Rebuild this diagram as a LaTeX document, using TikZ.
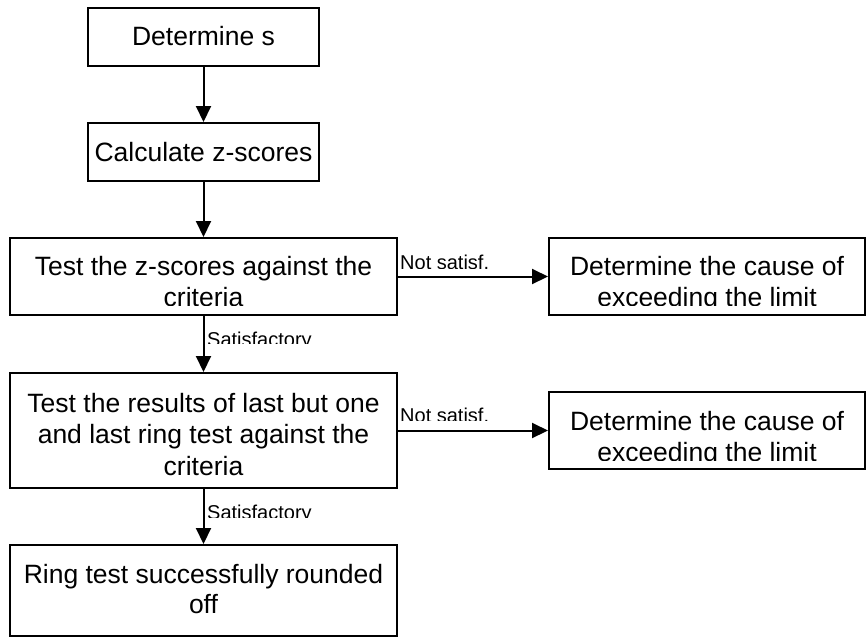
\documentclass[tikz,border=0pt]{standalone}
\usepackage{fontspec}
\setmainfont{Liberation Sans}
\usetikzlibrary{arrows.meta}
\begin{document}
\begin{tikzpicture}[x=1pt,y=-1pt,
  box/.style={draw, line width=2pt, inner sep=0pt},
  txt/.style={font=\fontsize{26.5}{31}\selectfont, anchor=base, inner sep=0pt},
  lbl/.style={font=\fontsize{20}{24}\selectfont, anchor=base west, inner sep=0pt},
  arr/.style={-{Triangle[length=16pt,width=15pt]}, line width=2pt}]
\useasboundingbox (0,0) rectangle (866,638);
% boxes
\node[box, minimum width=231pt, minimum height=58pt] (b1) at (203.5,37) {};
\node[box, minimum width=231pt, minimum height=58pt] (b2) at (203.5,152) {};
\node[box, minimum width=387pt, minimum height=77pt] (b3) at (203.5,276.5) {};
\node[box, minimum width=316pt, minimum height=77pt] (r1) at (707,276.5) {};
\node[box, minimum width=387pt, minimum height=115pt] (b4) at (203.5,430.5) {};
\node[box, minimum width=316pt, minimum height=77pt] (r2) at (707,430.5) {};
\node[box, minimum width=387pt, minimum height=91pt] (b5) at (203.5,590.5) {};
% texts
\node[txt] (t1) at (203.5,45.5) {Determine s};
\node[txt] (t2) at (203.5,161) {Calculate z-scores};
\begin{scope}
  \clip (10,238) rectangle (397,305.5);
  \node[txt] (t3a) at (203.5,275) {Test the z-scores against the};
  \node[txt] (t3b) at (203.5,306) {criteria};
\end{scope}
\begin{scope}
  \clip (549,238) rectangle (865,305.5);
  \node[txt] (tr1a) at (707,275) {Determine the cause of};
  \node[txt] (tr1b) at (707,306) {exceeding the limit};
\end{scope}
\node[txt] (t4a) at (203.5,412) {Test the results of last but one};
\node[txt] (t4b) at (203.5,443.5) {and last ring test against the};
\node[txt] (t4c) at (203.5,475) {criteria};
\begin{scope}
  \clip (549,392) rectangle (865,460);
  \node[txt] (tr2a) at (707,430) {Determine the cause of};
  \node[txt] (tr2b) at (707,461) {exceeding the limit};
\end{scope}
\node[txt] (t5a) at (203.5,583) {Ring test successfully rounded};
\node[txt] (t5b) at (203.5,613.5) {off};
% connectors
\draw[arr] (b1) -- (b2);
\draw[arr] (b2) -- (b3);
\draw[arr] (b3) -- (b4);
\draw[arr] (b4) -- (b5);
\draw[arr] (b3) -- (r1);
\draw[arr] (b4) -- (r2);
% labels
\begin{scope}
  \clip (398,240) rectangle (545,268.5);
  \node[lbl] (l1) at (400,269) {Not satisf.};
\end{scope}
\begin{scope}
  \clip (398,395) rectangle (545,420.5);
  \node[lbl] (l2) at (400,422) {Not satisf.};
\end{scope}
\begin{scope}
  \clip (205,320) rectangle (340,343.5);
  \node[lbl] (l3) at (207,346) {Satisfactory};
\end{scope}
\begin{scope}
  \clip (205,492) rectangle (340,517);
  \node[lbl] (l4) at (207,519) {Satisfactory};
\end{scope}
\end{tikzpicture}
\end{document}
